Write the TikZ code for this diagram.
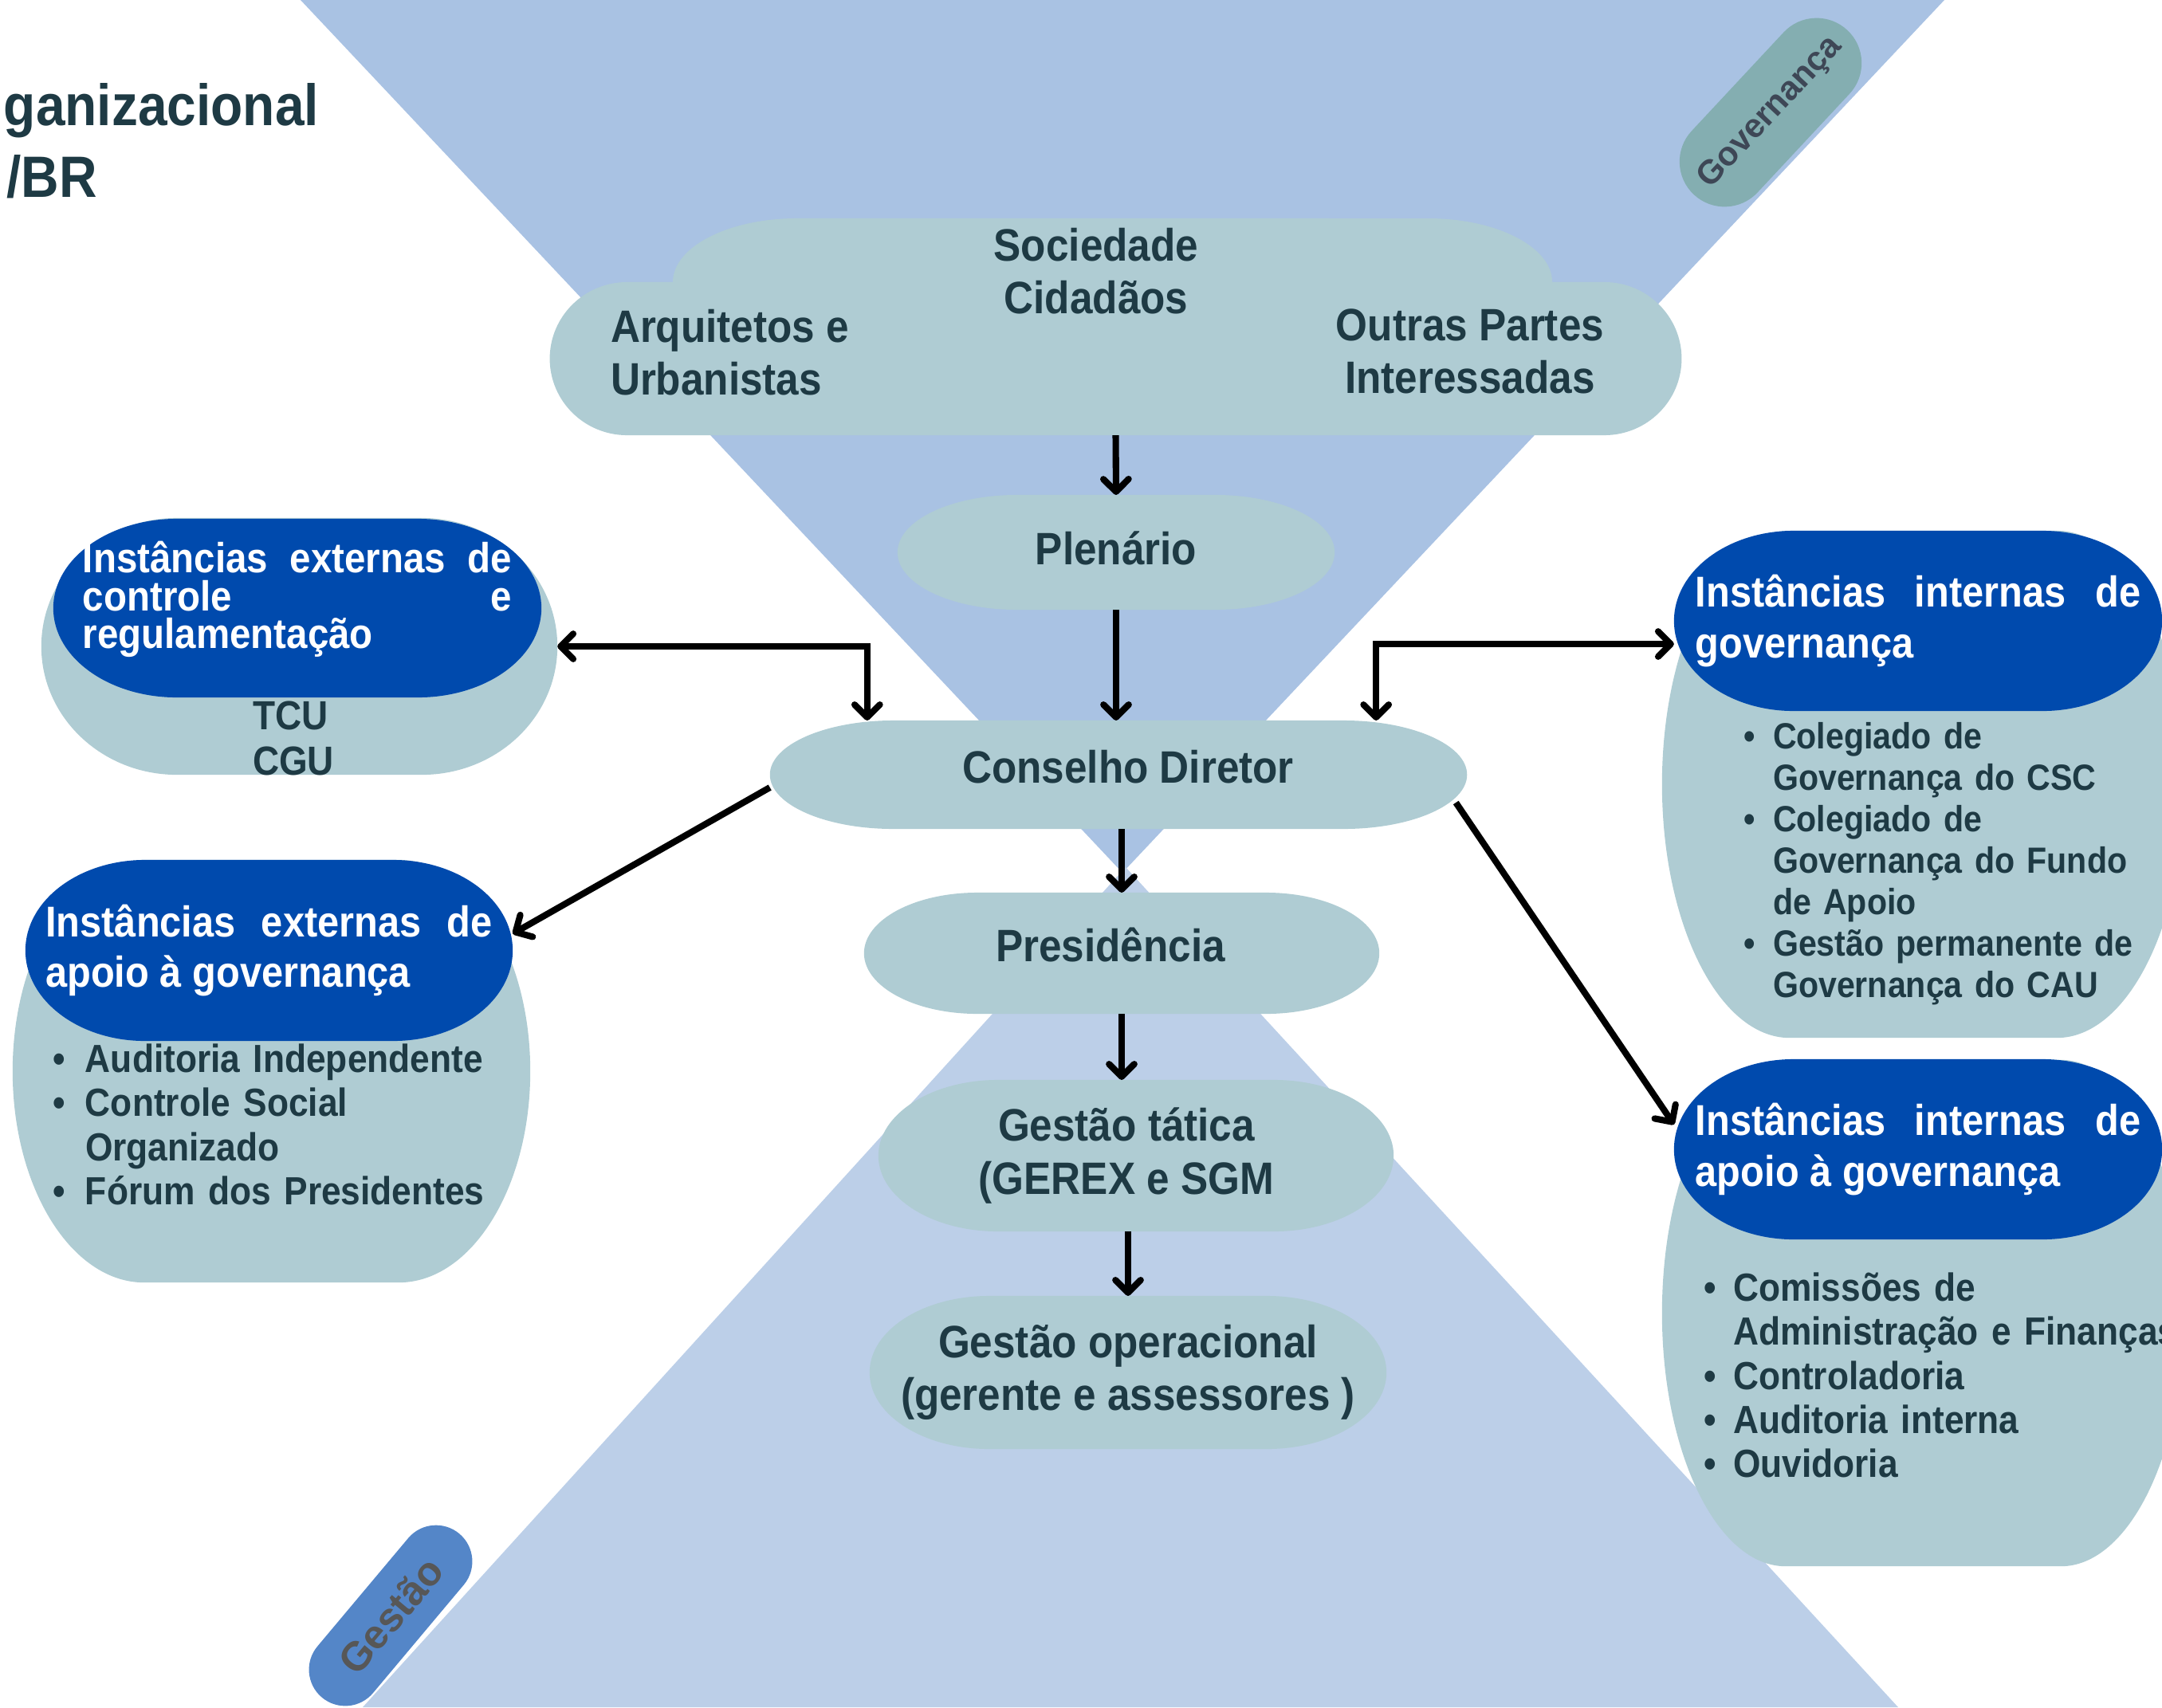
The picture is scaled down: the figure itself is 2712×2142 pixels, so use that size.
\documentclass[tikz,border=0pt]{standalone}
\usepackage{fontspec}
\setmainfont{Liberation Sans}[FakeStretch=0.9]
\newfontfamily\tagfont{Liberation Sans}
\usetikzlibrary{calc}
\usetikzlibrary{arrows.meta}
\usetikzlibrary{shapes.misc}

\definecolor{topblue}{HTML}{A9C2E3}
\definecolor{lowblue}{HTML}{BCCFE8}
\definecolor{boxfill}{HTML}{AFCCD3}
\definecolor{headblue}{HTML}{004AAD}
\definecolor{txt}{HTML}{1E3A44}
\definecolor{govtag}{HTML}{84AEB1}
\definecolor{govtxt}{HTML}{3E4756}
\definecolor{gestag}{HTML}{5486C8}
\definecolor{gestxt}{HTML}{575757}

\pgfdeclarelayer{back}
\pgfdeclarelayer{shade}
\pgfsetlayers{back,shade,main}

% pill with elliptic ends behind a node, #3 = x radius of the ends
\newcommand{\pillfill}[3][boxfill]{%
  \fill[#1] let \p1=(#2.south west), \p2=(#2.north east), \n1={0.5*(\y2-\y1)} in
    (\x1+#3,\y1) -- (\x2-#3,\y1) arc[start angle=-90,end angle=90,x radius=#3,y radius=\n1]
    -- (\x1+#3,\y2) arc[start angle=90,end angle=270,x radius=#3,y radius=\n1] -- cycle;}
% bullet item with hanging indent (end each item with \par)
\newcommand{\itm}[1][0.41cm]{\noindent\hangindent=#1\hangafter=1\makebox[#1][l]{\textbullet}\ignorespaces}

\begin{document}
\begin{tikzpicture}[x=0.01cm,y=-0.01cm,
  every node/.style={inner sep=0pt,outer sep=0pt,text=txt},
  box/.style={align=center,font={\bfseries\fontsize{16.2}{18.8}\selectfont}},
  lift/.style={text height=12pt,text depth=#1},
  head/.style={text=white,text width=#1,align=justify,font={\bfseries\fontsize{15.4}{18}\selectfont}},
  lst/.style={anchor=north west,text width=#1,align=left,font={\bfseries\fontsize{14}{15.7}\selectfont}},
  tag/.style={rounded rectangle,font={\tagfont\bfseries\fontsize{12}{14}\selectfont}},
  >={Straight Barb[length=4.5pt,width=9pt,round]},
  arr/.style={line width=2.3pt,->}]
  \useasboundingbox (0,0) rectangle (2712,2142);

  % funnel
  \begin{pgfonlayer}{back}
    \fill[topblue] (377,0) -- (2439,0) -- (1408,1095) -- cycle;
    \fill[lowblue] (1412,1088) -- (2381,2142) -- (455,2142) -- cycle;
  \end{pgfonlayer}

  %\node at (0,0) {Estrutura Organizacional};
  \node[anchor=base east,font={\bfseries\fontsize{20.8}{25.6}\selectfont}] (ttl) at (400,157) {ganizacional};
  \node[anchor=base east,font={\bfseries\fontsize{20.8}{25.6}\selectfont}] (ttlb) at (122,247) {/BR};

  \node[tag,fill=govtag,text=govtxt,rotate=47,minimum width=2.82cm,minimum height=1.13cm] (gov) at (2221,141) {Governança};
  \node[tag,fill=gestag,text=gestxt,rotate=50,minimum width=2.68cm,minimum height=0.91cm,
        font={\tagfont\bfseries\fontsize{14.5}{16}\selectfont}] (ges) at (490,2027) {Gestão};

  % center column
  \node[minimum width=14.19cm,minimum height=1.92cm] (soc) at (1399.5,450) {};
  \node[box] (socc) at (1375,340) {Sociedade\\Cidadãos};
  \node[box,anchor=west,align=left] (arq) at (766,442) {Arquitetos e\\Urbanistas};
  \node[box] (out) at (1844,441) {Outras Partes\\Interessadas};

  \node[box,lift=3.2pt,minimum width=5.48cm,minimum height=1.44cm] (plen) at (1400,693) {Plenário};
  \node[box,lift=5.8pt,minimum width=8.74cm,minimum height=1.36cm] (cons) at (1403,972) {\kern0.24cm Conselho Diretor};
  \node[box,lift=5.8pt,minimum width=6.46cm,minimum height=1.52cm] (pres) at (1407,1196) {Presidência\kern0.28cm};
  \node[box,minimum width=6.46cm,minimum height=1.90cm] (gtat) at (1425,1450) {Gestão tática\kern0.24cm\\(GEREX e SGM\kern0.24cm};
  \node[box,minimum width=6.48cm,minimum height=1.92cm] (gop) at (1415,1722) {Gestão operacional\\(gerente e assessores )};

  % left side
  \node[minimum width=6.47cm,minimum height=3.22cm] (ectlbox) at (375.5,811) {};
  \node[head=5.38cm,minimum width=6.12cm,minimum height=2.24cm,font={\bfseries\fontsize{15}{13.4}\selectfont}]
    (ectl) at (373,763) {Instâncias externas de\linebreak controle e\linebreak regulamentação\par\vspace{0.22cm}};
  \node[lst=3cm,font={\bfseries\fontsize{14.5}{16.2}\selectfont}] (tcu) at (317,880) {TCU\\CGU};

  \node[minimum width=6.49cm,minimum height=5.30cm] (eapobox) at (340.5,1344) {};
  \node[head=5.6cm,minimum width=6.11cm,minimum height=2.27cm] (eapo) at (337.5,1192.5) {Instâncias externas de\linebreak apoio à governança};
  \node[lst=5.9cm] (eapol) at (66,1310) {\itm Auditoria Independente\par
    \itm Controle Social\newline Organizado\par
    \itm Fórum dos Presidentes\par};

  % right side
  \node[minimum width=6.55cm,minimum height=6.36cm] (igovbox) at (2412.5,984) {};
  \node[head=5.58cm,minimum width=6.12cm,minimum height=2.26cm] (igov) at (2406,779) {Instâncias internas de\linebreak governança};
  \node[lst=5.2cm,font={\bfseries\fontsize{13}{14.8}\selectfont}] (igovl) at (2187,906) {\itm[0.37cm] Colegiado de\newline Governança do CSC\par
    \itm[0.37cm] Colegiado de\newline Governança do Fundo\newline de Apoio\par
    \itm[0.37cm] Gestão permanente de\newline Governança do CAU\par};

  \node[minimum width=6.55cm,minimum height=6.35cm] (iapobox) at (2412.5,1647.5) {};
  \node[head=5.58cm,minimum width=6.12cm,minimum height=2.26cm] (iapo) at (2406,1442) {Instâncias internas de\linebreak apoio à governança};
  \node[lst=6.2cm] (iapol) at (2137,1597) {\itm[0.37cm] Comissões de\newline Administração e Finanças\par
    \itm[0.37cm] Controladoria\par
    \itm[0.37cm] Auditoria interna\par
    \itm[0.37cm] Ouvidoria\par};

  % shapes behind the nodes
  \begin{pgfonlayer}{shade}
    \pillfill{soc}{0.97cm}
    \fill[boxfill] (844,420) -- (844,354) arc[start angle=180,end angle=90,x radius=1.56cm,y radius=0.8cm]
      -- (1791,274) arc[start angle=90,end angle=0,x radius=1.56cm,y radius=0.8cm] -- (1947,420) -- cycle;
    \pillfill{ectlbox}{1.7cm}
    \pillfill[headblue]{ectl}{1.55cm}
    \pillfill{eapobox}{1.65cm}
    \pillfill[headblue]{eapo}{1.5cm}
    \pillfill{igovbox}{1.6cm}
    \pillfill[headblue]{igov}{1.5cm}
    \pillfill{iapobox}{1.55cm}
    \pillfill[headblue]{iapo}{1.5cm}
    \pillfill{plen}{1.5cm}
    \pillfill{cons}{1.55cm}
    \pillfill{pres}{1.42cm}
    \pillfill{gtat}{1.5cm}
    \pillfill{gop}{1.5cm}
  \end{pgfonlayer}

  \draw[arr] (soc.south) -- (plen.north);
  \draw[arr] (plen.south) -- (plen.south |- cons.north);
  \draw[arr] (pres.north |- cons.south) -- (pres.north);
  \draw[arr] (pres.south) -- (pres.south |- gtat.north);
  \draw[arr] (gop.north |- gtat.south) -- (gop.north);
  \draw[arr,<->] (ectlbox.east) -| ([xshift=-3.15cm]cons.north);
  \draw[arr,<->] ([xshift=3.23cm]cons.north) |- ([yshift=-0.29cm]igov.west);
  \draw[arr] ([yshift=-0.16cm]cons.west) -- ([yshift=0.21cm]eapo.east);
  \draw[arr] ([xshift=-0.14cm,yshift=-0.35cm]cons.east) -- ([yshift=0.31cm]iapo.west);
\end{tikzpicture}
\end{document}
